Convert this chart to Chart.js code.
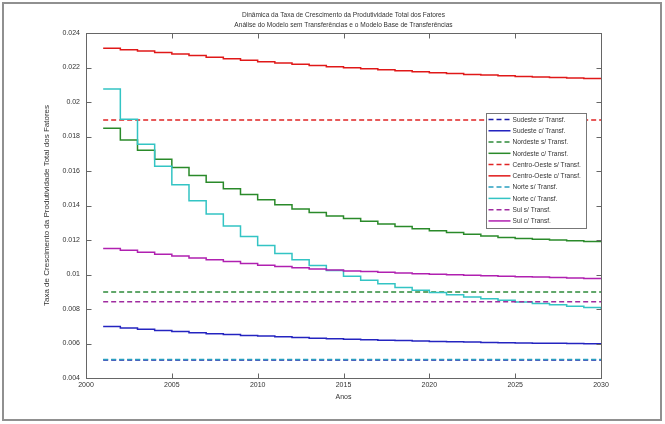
<!DOCTYPE html>
<html>
<head>
	<title>Dinâmica da Taxa de Crescimento da PTF</title>
	<meta charset="UTF-8">
	<style type="text/css">
		html, body { margin: 0; padding: 0; background: #fff; }
		.chart-container { position: relative; width: 665px; height: 424px; }
	</style>
	<script src="https://cdn.jsdelivr.net/npm/chart.js"></script>
</head>
<body>
	<div class="chart-container">
		<canvas id="chart"></canvas>
	</div>
	<script type="text/javascript">
// years of the simulation
const years = [2001, 2002, 2003, 2004, 2005, 2006, 2007, 2008, 2009, 2010,
               2011, 2012, 2013, 2014, 2015, 2016, 2017, 2018, 2019, 2020,
               2021, 2022, 2023, 2024, 2025, 2026, 2027, 2028, 2029, 2030];
// the "s/ Transf." series are constant, only first and last year
const flatYears = [2001, 2030];

const sudesteSem = [0.00505, 0.00505];
const sudesteCom = [0.00698, 0.00690, 0.00683, 0.00676, 0.00669, 0.00663, 0.00657, 0.00652, 0.00647, 0.00643,
                    0.00639, 0.00635, 0.00631, 0.00628, 0.00625, 0.00622, 0.00619, 0.00617, 0.00614, 0.00612,
                    0.00610, 0.00608, 0.00606, 0.00605, 0.00603, 0.00602, 0.00601, 0.00600, 0.00599, 0.00598];
const nordesteSem = [0.00898, 0.00898];
const nordesteCom = [0.01848, 0.01780, 0.01720, 0.01668, 0.01620, 0.01574, 0.01535, 0.01497, 0.01464, 0.01433,
                     0.01405, 0.01380, 0.01360, 0.01339, 0.01324, 0.01308, 0.01293, 0.01278, 0.01265, 0.01254,
                     0.01243, 0.01233, 0.01223, 0.01215, 0.01209, 0.01204, 0.01200, 0.01196, 0.01192, 0.01188];
const centroOesteSem = [0.01895, 0.01895];
const centroOesteCom = [0.02311, 0.02303, 0.02295, 0.02287, 0.02278, 0.02269, 0.02260, 0.02251, 0.02242, 0.02234,
                        0.02226, 0.02219, 0.02212, 0.02205, 0.02199, 0.02193, 0.02187, 0.02181, 0.02175, 0.02170,
                        0.02165, 0.02160, 0.02156, 0.02152, 0.02148, 0.02145, 0.02142, 0.02139, 0.02136, 0.02133];
const norteSem = [0.00507, 0.00507];
const norteCom = [0.02075, 0.01900, 0.01755, 0.01628, 0.01520, 0.01428, 0.01351, 0.01281, 0.01221, 0.01168,
                  0.01122, 0.01085, 0.01052, 0.01023, 0.00990, 0.00967, 0.00946, 0.00925, 0.00909, 0.00896,
                  0.00882, 0.00870, 0.00859, 0.00851, 0.00841, 0.00832, 0.00824, 0.00816, 0.00809, 0.00801];
const sulSem = [0.00842, 0.00842];
const sulCom = [0.01151, 0.01140, 0.01129, 0.01118, 0.01107, 0.01096, 0.01085, 0.01075, 0.01064, 0.01054,
                0.01046, 0.01039, 0.01032, 0.01026, 0.01021, 0.01017, 0.01013, 0.01009, 0.01005, 0.01002,
                0.00999, 0.00996, 0.00993, 0.00990, 0.00987, 0.00985, 0.00982, 0.00980, 0.00977, 0.00975];

// axes ticks
const xTickValues = [2000, 2005, 2010, 2015, 2020, 2025, 2030];
const xTickLabels = ['2000', '2005', '2010', '2015', '2020', '2025', '2030'];
const yTickValues = [0.004, 0.006, 0.008, 0.01, 0.012, 0.014, 0.016, 0.018, 0.02, 0.022, 0.024];
const yTickLabels = ['0.004', '0.006', '0.008', '0.01', '0.012', '0.014', '0.016', '0.018', '0.02', '0.022', '0.024'];

const titleLines = ['Dinâmica da Taxa de Crescimento da Produtividade Total dos Fatores',
                    'Análise do Modelo sem Transferências e o Modelo Base de Transferências'];

const sans = '"Liberation Sans", Arial, sans-serif';

function pts(xs, ys) {
  return xs.map(function(x, i) { return {x: x, y: ys[i]}; });
}

function series(label, xs, ys, color, dashed) {
  return {
    label: label,
    data: pts(xs, ys),
    borderColor: color,
    backgroundColor: color,
    borderWidth: 1.5,
    borderDash: dashed ? [5, 3] : [],
    stepped: dashed ? false : true,
    pointRadius: 0,
    fill: false
  };
}

var datasets = [
  series('Sudeste s/ Transf.', flatYears, sudesteSem, '#1a1aa8', true),
  series('Sudeste c/ Transf.', years, sudesteCom, '#2424c0', false),
  series('Nordeste s/ Transf.', flatYears, nordesteSem, '#2e8a3a', true),
  series('Nordeste c/ Transf.', years, nordesteCom, '#2a8a2a', false),
  series('Centro-Oeste s/ Transf.', flatYears, centroOesteSem, '#e02424', true),
  series('Centro-Oeste c/ Transf.', years, centroOesteCom, '#e01818', false),
  series('Norte s/ Transf.', flatYears, norteSem, '#2aa0c0', true),
  series('Norte c/ Transf.', years, norteCom, '#33c4c4', false),
  series('Sul s/ Transf.', flatYears, sulSem, '#a02ca0', true),
  series('Sul c/ Transf.', years, sulCom, '#b020b0', false)
];
// matlab draws later lines on top
datasets.forEach(function(d, i) { d.order = -i; });

// narrow-looking text: squeeze 8px sans horizontally
function narrowText(ctx, text, x, y, align) {
  ctx.save();
  ctx.translate(x, y);
  ctx.scale(0.82, 1);
  ctx.textAlign = align;
  ctx.fillText(text, 0, 0);
  ctx.restore();
}

// frame, axes box, inward ticks, title and the legend box
const matlabLook = {
  id: 'matlabLook',
  afterDraw: function(chart) {
    var ctx = chart.ctx, a = chart.chartArea;
    var xs = chart.scales.x, ys = chart.scales.y;
    ctx.save();

    // outer figure frame
    ctx.strokeStyle = '#909090';
    ctx.lineWidth = 2;
    ctx.strokeRect(3, 3, 658, 417);

    // axes box
    var L = Math.round(a.left) + 0.5, R = Math.round(a.right) + 0.5;
    var T = Math.round(a.top) + 0.5, B = Math.round(a.bottom) + 0.5;
    ctx.strokeStyle = '#666';
    ctx.lineWidth = 1;
    ctx.strokeRect(L, T, R - L, B - T);

    ctx.beginPath();
    xTickValues.forEach(function(v) {
      var px = Math.round(xs.getPixelForValue(v)) + 0.5;
      ctx.moveTo(px, B); ctx.lineTo(px, B - 5);
      ctx.moveTo(px, T); ctx.lineTo(px, T + 5);
    });
    yTickValues.forEach(function(v) {
      var py = Math.round(ys.getPixelForValue(v)) + 0.5;
      ctx.moveTo(L, py); ctx.lineTo(L + 5, py);
      ctx.moveTo(R, py); ctx.lineTo(R - 5, py);
    });
    ctx.stroke();

    // title
    ctx.fillStyle = '#333';
    ctx.font = '8px ' + sans;
    ctx.textBaseline = 'middle';
    titleLines.forEach(function(t, i) {
      narrowText(ctx, t, (a.left + a.right) / 2, 15 + i * 10, 'center');
    });

    // legend
    var lw = 100, lh = 115;
    var lx = Math.round(a.right - 15 - lw) + 0.5, ly = Math.round(a.top + 80) + 0.5;
    ctx.fillStyle = '#fff';
    ctx.fillRect(lx, ly, lw, lh);
    ctx.strokeStyle = '#777';
    ctx.strokeRect(lx, ly, lw, lh);
    chart.data.datasets.forEach(function(d, i) {
      var y = ly + 6 + i * 11.27;
      ctx.beginPath();
      ctx.strokeStyle = d.borderColor;
      ctx.lineWidth = 1.5;
      ctx.setLineDash(d.borderDash);
      ctx.moveTo(lx + 2, y);
      ctx.lineTo(lx + 24, y);
      ctx.stroke();
      ctx.setLineDash([]);
      ctx.fillStyle = '#333';
      narrowText(ctx, d.label, lx + 26, y, 'left');
    });
    ctx.restore();
  }
};

var ctx = document.getElementById('chart').getContext('2d');
var chart = new Chart(ctx, {
  type: 'line',
  data: { datasets: datasets },
  options: {
    responsive: true,
    maintainAspectRatio: false,
    animation: false,
    layout: { padding: { left: 42, top: 33, right: 64, bottom: 23 } },
    plugins: {
      legend: { display: false },
      tooltip: { enabled: false }
    },
    scales: {
      x: {
        type: 'linear',
        min: 2000,
        max: 2030,
        afterFit: function(scale) { scale.height = 23; },
        afterBuildTicks: function(scale) {
          scale.ticks = xTickValues.map(function(v) { return {value: v}; });
        },
        ticks: {
          color: '#333',
          font: { family: sans, size: 7 },
          padding: 3,
          maxRotation: 0,
          autoSkip: false,
          callback: function(v, i) { return xTickLabels[i]; }
        },
        grid: { display: false, drawTicks: false },
        border: { display: false },
        title: {
          display: true,
          text: 'Anos',
          color: '#333',
          font: { family: sans, size: 7 },
          padding: 0
        }
      },
      y: {
        min: 0.004,
        max: 0.024,
        afterFit: function(scale) { scale.width = 44; },
        afterBuildTicks: function(scale) {
          scale.ticks = yTickValues.map(function(v) { return {value: v}; });
        },
        ticks: {
          color: '#333',
          font: { family: sans, size: 7 },
          padding: 6,
          autoSkip: false,
          callback: function(v, i) { return yTickLabels[i]; }
        },
        grid: { display: false, drawTicks: false },
        border: { display: false },
        title: {
          display: true,
          text: 'Taxa de Crescimento da Produtividade Total dos Fatores',
          color: '#333',
          font: { family: sans, size: 8 },
          padding: 0
        }
      }
    }
  },
  plugins: [matlabLook]
});
	</script>
</body>
</html>
